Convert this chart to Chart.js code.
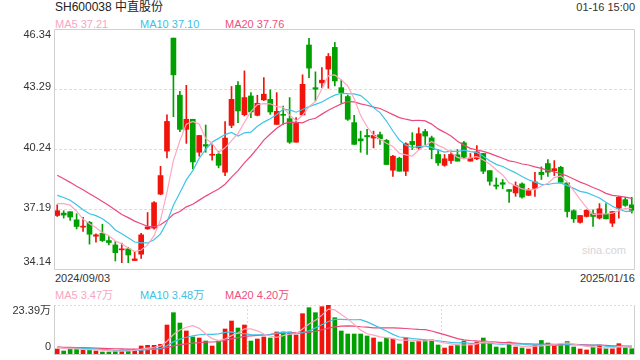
<!DOCTYPE html>
<html>
<head>
<meta charset="utf-8">
<script src="https://cdn.jsdelivr.net/npm/chart.js@4"></script>
<style>
  body { margin: 0; width: 640px; height: 360px; background: #fff; position: relative; overflow: hidden;
         font-family: "Liberation Sans", Arial, "Noto Sans CJK SC", sans-serif; }
  .t { position: absolute; white-space: nowrap; line-height: 14px; font-size: 11px; color: #333; }
  canvas { position: absolute; left: 0; }
</style>
</head>
<body>
<div class="t" style="left:55px;top:0px;font-size:12px;color:#222">SH600038 中直股份</div>
<div class="t" style="right:5px;top:0px">01-16 15:00</div>
<div class="t" style="left:55px;top:17px;color:#f8a6bf">MA5 37.21</div>
<div class="t" style="left:140px;top:17px;color:#40bfe4">MA10 37.10</div>
<div class="t" style="left:225px;top:17px;color:#ee4f82">MA20 37.76</div>
<div class="t" style="left:582px;top:243px;color:#d6d6d6">sina.com</div>
<div class="t" style="left:55px;top:271px">2024/09/03</div>
<div class="t" style="right:5px;top:271px">2025/01/16</div>
<div class="t" style="left:55px;top:288px;color:#f8a6bf">MA5 3.47万</div>
<div class="t" style="left:140px;top:288px;color:#40bfe4">MA10 3.48万</div>
<div class="t" style="left:225px;top:288px;color:#ee4f82">MA20 4.20万</div>
<canvas id="main" width="640" height="272" style="top:0"></canvas>
<canvas id="vol" width="640" height="60" style="top:300px"></canvas>
<script>
// trading days shown on the chart (2024/09/03 .. 2025/01/16)
const tradingDays = [
  ['2024/09', [3,4,5,6,9,10,11,12,13,18,19,20,23,24,25,26,27,30]],
  ['2024/10', [8,9,10,11,14,15,16,17,18,21,22,23,24,25,28,29,30,31]],
  ['2024/11', [1,4,5,6,7,8,11,12,13,14,15,18,19,20,21,22,25,26,27,28,29]],
  ['2024/12', [2,3,4,5,6,9,10,11,12,13,16,17,18,19,20,23,24,25,26,27,30,31]],
  ['2025/01', [2,3,6,7,8,9,10,13,14,15,16]]
];
const dates = [];
tradingDays.forEach(([m, days]) => days.forEach(d => dates.push(m + '/' + String(d).padStart(2, '0'))));

const opens = [36.90,37.02,37.09,36.68,36.31,36.55,35.85,36.00,35.63,35.41,
  35.16,35.21,34.62,34.94,36.22,36.26,37.98,40.16,45.88,42.99,
  41.26,41.77,40.10,40.49,39.95,40.00,39.09,41.46,43.49,42.00,
  42.95,41.97,42.75,42.78,41.51,42.02,41.80,40.61,41.99,45.53,
  43.37,43.61,44.31,45.41,43.37,42.92,41.60,40.78,40.95,40.82,
  40.99,40.70,39.19,39.80,39.14,40.65,40.32,41.15,40.83,39.99,
  39.44,39.68,39.97,40.58,39.65,39.77,40.04,39.17,38.44,38.56,
  38.21,38.04,38.50,37.92,38.27,39.09,39.53,39.17,39.34,38.55,
  37.14,36.55,36.85,36.99,36.77,36.97,36.51,37.27,37.70,37.44];
const highs = [37.44,37.14,37.10,36.99,36.80,36.60,35.97,36.46,35.83,35.58,
  35.50,35.29,35.07,36.00,37.05,37.60,39.39,42.00,45.88,43.19,
  43.49,41.77,40.95,41.48,40.49,40.16,41.65,43.43,43.68,44.22,
  43.12,42.99,43.88,43.26,43.12,42.44,42.87,41.85,44.02,45.87,
  44.17,44.39,45.10,45.66,43.76,43.00,41.97,41.17,41.26,41.17,
  41.12,40.75,39.94,39.85,40.58,41.09,41.34,41.26,40.92,40.24,
  39.99,40.16,40.24,40.65,40.04,40.44,40.04,39.17,38.80,38.72,
  38.21,38.60,38.55,38.27,39.09,39.36,39.73,39.68,39.39,38.55,
  37.19,36.90,37.19,37.19,37.50,37.50,37.10,37.87,37.82,37.82];
const lows = [36.85,36.77,36.65,36.22,36.09,35.45,35.55,35.58,35.41,34.60,
  34.51,34.51,34.62,34.72,36.20,36.21,37.95,39.82,41.90,41.14,
  40.55,39.26,39.90,40.10,39.70,39.31,38.92,41.34,41.60,41.94,
  41.85,41.94,42.72,42.02,41.51,41.51,40.55,40.61,41.99,43.88,
  42.70,43.37,43.34,43.46,42.58,41.71,40.50,40.10,39.99,40.32,
  40.50,39.48,38.88,39.14,38.92,40.24,40.24,40.49,39.77,39.43,
  39.39,39.53,39.65,39.77,39.65,39.73,39.02,38.43,38.24,38.26,
  37.56,37.87,37.78,37.90,37.87,38.72,38.88,38.92,38.55,36.82,
  36.55,36.51,36.82,36.34,36.72,36.73,36.34,36.77,37.36,37.02];
const closes = [37.14,36.92,36.82,36.34,36.36,35.95,35.92,35.63,35.53,35.02,
  35.21,34.90,34.70,35.92,36.32,37.55,38.92,41.66,44.02,41.26,
  41.77,39.61,40.95,40.41,40.00,39.44,40.82,42.78,42.19,42.87,
  42.14,42.58,43.04,42.14,42.17,41.97,40.61,41.56,43.54,44.36,
  43.29,43.75,44.95,43.71,43.12,41.77,40.50,40.68,40.88,40.95,
  40.78,39.48,39.90,39.14,40.53,40.49,41.04,40.92,40.24,39.56,
  39.77,39.99,39.65,39.85,39.80,40.12,39.14,38.63,38.38,38.48,
  38.12,38.41,37.83,38.16,38.60,38.97,39.09,39.27,38.58,37.10,
  36.73,36.90,37.16,36.85,37.24,36.73,37.10,37.82,37.41,37.16];
// volume, in 万 lots
const volumes = [2.81,1.87,2.81,3.12,2.34,2.50,1.87,1.40,1.40,2.03,
  2.34,2.34,2.50,4.21,4.52,4.52,4.99,14.03,19.80,14.97,
  11.23,8.42,7.95,6.55,4.21,6.55,12.16,15.90,12.63,14.03,
  6.55,7.48,8.42,7.95,10.76,10.76,10.76,9.36,19.34,22.14,
  19.80,22.61,23.39,17.46,11.23,9.82,9.82,9.82,8.89,7.95,
  6.08,7.95,7.48,5.15,7.95,6.08,6.55,7.02,7.02,4.68,
  3.27,4.21,4.68,6.55,4.68,6.08,7.95,5.61,3.74,3.27,
  6.08,3.74,3.27,2.81,4.68,6.80,5.61,4.68,5.15,6.30,
  3.74,2.81,2.34,3.74,4.68,2.90,2.90,5.30,3.30,2.95];
// sessions before the first shown day, needed for the moving averages
const prevCloses = [40.6,40.4,40.2,40.0,39.9,39.8,39.7,39.6,39.6,39.8,
  38.0,38.2,38.6,38.9,38.0,36.9,37.2,37.9,38.36];
const prevVolumes = [4.6,4.2,3.9,4.4,3.8,3.6,4.1,3.7,3.5,3.9,
  3.6,3.3,3.8,3.4,3.6,4.3,3.5,3.2,3.9];

const priceTicks = [34.14, 37.19, 40.24, 43.29, 46.34];
const volTicks = [0, 23.39];

const upColor = '#f0140a', downColor = '#00a000';
const maColors = ['#ffa6c1', '#3ec4e6', '#ec4a7c'];

const movingAvg = (vals, prev, n) => {
  const all = prev.concat(vals);
  return vals.map((v, i) => {
    const end = prev.length + i;
    let s = 0;
    for (let k = end - n + 1; k <= end; k++) s += all[k];
    return s / n;
  });
};

const candleColors = closes.map((c, i) => c >= opens[i] ? upColor : downColor);

// frame box + y labels kept inside the panel
const framePlugin = {
  id: 'frame',
  afterDraw(chart, args, opts) {
    const { ctx, chartArea: a } = chart;
    const y = chart.scales.y;
    ctx.save();
    ctx.strokeStyle = '#d0d0d0';
    ctx.lineWidth = 1;
    ctx.beginPath();
    if (opts.full) {
      ctx.rect(a.left + 0.5, a.top + 0.5, a.right - a.left - 1, a.bottom - a.top - 1);
    } else {
      ctx.moveTo(a.left + 0.5, a.top);
      ctx.lineTo(a.left + 0.5, a.bottom - 0.5);
      ctx.lineTo(a.right - 0.5, a.bottom - 0.5);
      ctx.lineTo(a.right - 0.5, a.top);
    }
    ctx.stroke();
    ctx.fillStyle = '#333';
    ctx.font = '11px "Liberation Sans", Arial, "Noto Sans CJK SC"';
    ctx.textAlign = 'right';
    ctx.textBaseline = 'middle';
    y.ticks.forEach(t => {
      let py = y.getPixelForValue(t.value) - 2;
      py = Math.max(a.top + 6, Math.min(a.bottom - 8, py));
      const txt = t.value === 0 ? '0' : t.value.toFixed(2) + opts.unit;
      ctx.fillText(txt, 51, py);
    });
    ctx.restore();
  }
};

const lineSet = (label, data, color) => ({
  type: 'line', label, data, borderColor: color, borderWidth: 1.2,
  pointRadius: 0, fill: false, order: 0
});

new Chart(document.getElementById('main'), {
  type: 'bar',
  data: {
    labels: dates,
    datasets: [
      lineSet('MA5', movingAvg(closes, prevCloses, 5), maColors[0]),
      lineSet('MA10', movingAvg(closes, prevCloses, 10), maColors[1]),
      lineSet('MA20', movingAvg(closes, prevCloses, 20), maColors[2]),
      { label: 'body', data: opens.map((o, i) => [o, closes[i]]), backgroundColor: candleColors,
        barThickness: 5, grouped: false, minBarLength: 1, order: 1 },
      { label: 'wick', data: lows.map((l, i) => [l, highs[i]]), backgroundColor: candleColors,
        barThickness: 1, grouped: false, order: 2 }
    ]
  },
  options: {
    responsive: false,
    animation: false,
    devicePixelRatio: 1,
    layout: { padding: { top: 29, right: 5, bottom: 2, left: 0 } },
    plugins: { legend: { display: false }, tooltip: { enabled: false }, frame: { full: true, unit: '' } },
    scales: {
      x: { display: false, offset: true },
      y: {
        min: 34.14, max: 46.34,
        afterBuildTicks: s => { s.ticks = priceTicks.map(v => ({ value: v })); },
        afterFit: s => { s.width = 54; },
        ticks: { display: false },
        grid: {
          drawTicks: false,
          color: c => (c.index === 0 || c.index === priceTicks.length - 1) ? 'rgba(0,0,0,0)' : '#dcdcdc'
        },
        border: { display: false, dash: [3, 2] }
      }
    }
  },
  plugins: [framePlugin]
});

new Chart(document.getElementById('vol'), {
  type: 'bar',
  data: {
    labels: dates,
    datasets: [
      lineSet('MA5', movingAvg(volumes, prevVolumes, 5), maColors[0]),
      lineSet('MA10', movingAvg(volumes, prevVolumes, 10), maColors[1]),
      lineSet('MA20', movingAvg(volumes, prevVolumes, 20), maColors[2]),
      { label: 'vol', data: volumes, backgroundColor: candleColors, barThickness: 4, grouped: false, order: 1 }
    ]
  },
  options: {
    responsive: false,
    animation: false,
    devicePixelRatio: 1,
    layout: { padding: { top: 5, right: 5, bottom: 5, left: 0 } },
    plugins: { legend: { display: false }, tooltip: { enabled: false }, frame: { full: false, unit: '万' } },
    scales: {
      x: {
        offset: true,
        afterFit: s => { s.height = 0; },
        ticks: { display: false },
        grid: {
          offset: true, drawTicks: false,
          color: c => (c.index === 30 || c.index === 60) ? '#dcdcdc' : 'rgba(0,0,0,0)'
        },
        border: { display: false, dash: [2, 2] }
      },
      y: {
        min: 0, max: 23.39,
        afterBuildTicks: s => { s.ticks = volTicks.map(v => ({ value: v })); },
        afterFit: s => { s.width = 54; },
        ticks: { display: false },
        grid: {
          drawTicks: false,
          color: c => c.index === volTicks.length - 1 ? '#dcdcdc' : 'rgba(0,0,0,0)'
        },
        border: { display: false, dash: [2, 2] }
      }
    }
  },
  plugins: [framePlugin]
});
</script>
</body>
</html>
